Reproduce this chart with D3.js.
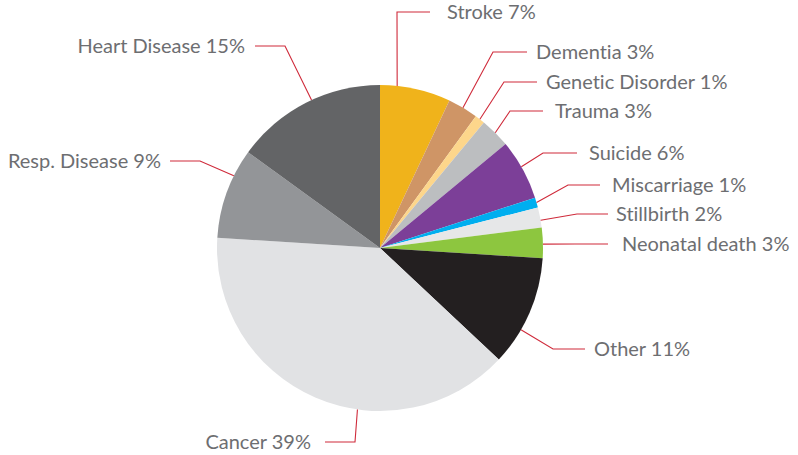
<!DOCTYPE html>
<html>
<head>
<meta charset="utf-8">
<script src="https://cdn.jsdelivr.net/npm/d3@7/dist/d3.min.js"></script>
<style>
  html, body { margin: 0; padding: 0; background: #fff; }
  svg { display: block; }
  .label { font-family: Lato, "Open Sans", sans-serif; font-size: 20px; fill: #6d6e71; font-variant-ligatures: none; }
</style>
</head>
<body>
<svg id="chart" width="798" height="455"></svg>
<script>
// Causes of death, share in percent (clockwise from 12 o'clock)
const causes = ["Stroke", "Dementia", "Genetic Disorder", "Trauma", "Suicide", "Miscarriage",
                "Stillbirth", "Neonatal death", "Other", "Cancer", "Resp. Disease", "Heart Disease"];
const shares = [7, 3, 1, 3, 6, 1, 2, 3, 11, 39, 9, 15];
const sliceColors = ["#f0b31b", "#cf9566", "#fdd68b", "#bcbec0", "#7c3f98", "#00aeef",
                     "#e6e7e8", "#8dc63f", "#231f20", "#e1e2e4", "#939598", "#636466"];

// Callout placement: where along the slice the leader leaves the rim (0..1),
// the elbow point, where the horizontal run ends, the gap to the text and the side.
const callouts = [
  { at: 0.24, elbow: [397, 12],  end: 430, gap: 17, side: "right" },
  { at: 0.5,  elbow: [493, 52],  end: 527, gap: 9,  side: "right" },
  { at: 0.5,  elbow: [504, 82],  end: 537, gap: 9,  side: "right" },
  { at: 0.5,  elbow: [510, 111], end: 543, gap: 12, side: "right" },
  { at: 0.45, elbow: [543, 153], end: 577, gap: 12, side: "right" },
  { at: 0.5,  elbow: [568, 185], end: 600, gap: 12, side: "right" },
  { at: 0.64, elbow: [577, 214], end: 608, gap: 8,  side: "right" },
  { at: 0.54, elbow: [575, 244], end: 608, gap: 14, side: "right" },
  { at: 0.67, elbow: [553, 349], end: 585, gap: 9,  side: "right" },
  { at: 0.39, elbow: [355, 442], end: 325, gap: 14, side: "left" },
  { at: 0.70, elbow: [200, 161], end: 170, gap: 9,  side: "left" },
  { at: 0.54, elbow: [285, 46],  end: 255, gap: 10, side: "left" }
];

const svg = d3.select("#chart");
const cx = 380, cy = 248, radius = 163;

const rows = causes.map((c, i) => ({ cause: c, share: shares[i], color: sliceColors[i], callout: callouts[i] }));

const pie = d3.pie().value(d => d.share).sort(null);
const arc = d3.arc().innerRadius(0).outerRadius(radius);
const arcs = pie(rows);

const g = svg.append("g").attr("transform", `translate(${cx},${cy})`);

g.selectAll("path.slice")
  .data(arcs)
  .join("path")
  .attr("class", "slice")
  .attr("d", arc)
  .attr("fill", d => d.data.color);

// Leader lines and labels
const leaders = svg.append("g");
arcs.forEach(d => {
  const c = d.data.callout;
  const a = d.startAngle + c.at * (d.endAngle - d.startAngle);
  const sx = cx + radius * Math.sin(a);
  const sy = cy - radius * Math.cos(a);
  leaders.append("path")
    .attr("d", d3.line()([[sx, sy], c.elbow, [c.end, c.elbow[1]]]))
    .attr("fill", "none")
    .attr("stroke", "#cf2a3a")
    .attr("stroke-width", 1.1);
  const right = c.side === "right";
  leaders.append("text")
    .attr("class", "label")
    .attr("x", right ? c.end + c.gap : c.end - c.gap)
    .attr("y", c.elbow[1])
    .attr("dy", "0.35em")
    .attr("text-anchor", right ? "start" : "end")
    .text(`${d.data.cause} ${d.data.share}%`);
});
</script>
</body>
</html>
